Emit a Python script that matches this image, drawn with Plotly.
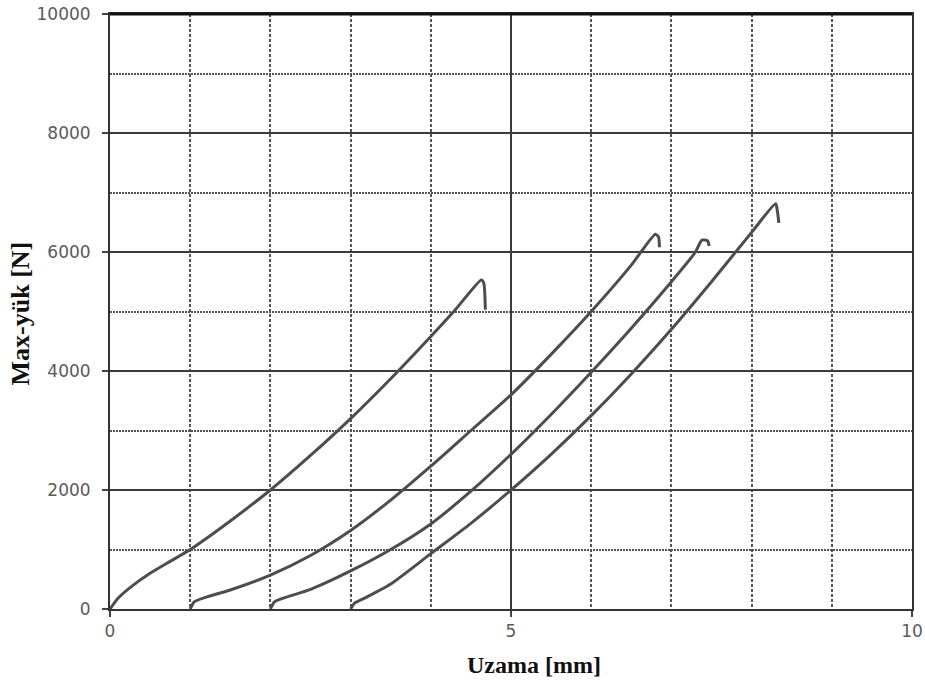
import plotly.graph_objects as go

# Load-elongation curves of four tensile specimens (elongation in mm, load in N)
elong_1 = [0.0, 0.1, 0.25, 0.5, 0.75, 1.0, 1.5, 2.0, 2.5, 3.0, 3.5, 4.0, 4.3, 4.63, 4.66, 4.68]
load_1 = [0, 180, 360, 600, 800, 1000, 1480, 2000, 2580, 3200, 3870, 4580, 5020, 5530, 5480, 5030]

elong_2 = [1.0, 1.05, 1.2, 1.5, 2.0, 2.5, 3.0, 3.5, 4.0, 4.5, 5.0, 5.5, 6.0, 6.5, 6.8, 6.84, 6.85]
load_2 = [0, 120, 200, 320, 570, 900, 1320, 1830, 2400, 3000, 3600, 4280, 5000, 5780, 6300, 6250, 6080]

elong_3 = [2.0, 2.05, 2.2, 2.5, 3.0, 3.5, 4.0, 4.5, 5.0, 5.5, 6.0, 6.5, 7.0, 7.3, 7.38, 7.45, 7.47]
load_3 = [0, 120, 200, 330, 640, 1000, 1430, 1980, 2600, 3270, 3980, 4720, 5500, 6000, 6200, 6190, 6100]

elong_4 = [3.0, 3.05, 3.2, 3.5, 4.0, 4.5, 5.0, 5.5, 6.0, 6.5, 7.0, 7.5, 8.0, 8.3, 8.32, 8.34]
load_4 = [0, 100, 200, 420, 930, 1440, 2000, 2600, 3250, 3950, 4700, 5500, 6330, 6810, 6700, 6490]

x_ticks = [0, 5, 10]
x_tick_text = ["0", "5", "10"]
y_ticks = [0, 2000, 4000, 6000, 8000, 10000]
y_tick_text = ["0", "2000", "4000", "6000", "8000", "10000"]

LINE = "#4d4d4d"

fig = go.Figure()
for xs, ys in [(elong_1, load_1), (elong_2, load_2), (elong_3, load_3), (elong_4, load_4)]:
    fig.add_trace(go.Scatter(x=xs, y=ys, mode="lines",
                             line=dict(color=LINE, width=3, shape="spline", smoothing=0.6),
                             showlegend=False, hoverinfo="skip"))

tick_font = dict(family="DejaVu Sans", size=17, color="#5a5a5a")

fig.update_xaxes(
    range=[0, 10], tickvals=x_ticks, ticktext=x_tick_text,
    ticks="outside", ticklen=6, tickwidth=2,
    tickcolor="#444444", tickfont=tick_font, automargin=False,
    showline=True, linecolor="#333333", linewidth=2, mirror=True,
    showgrid=True, gridcolor="#3c3c3c", gridwidth=2,
    minor=dict(dtick=1, showgrid=True, gridcolor="#555555", gridwidth=1.5,
               griddash="3px,2px", ticks=""),
    zeroline=False,
)
fig.update_yaxes(
    range=[0, 10000], tickvals=y_ticks, ticktext=y_tick_text,
    ticks="outside", ticklen=6, tickwidth=2, ticklabelstandoff=8,
    tickcolor="#444444", tickfont=tick_font, automargin=False,
    showline=True, linecolor="#333333", linewidth=2, mirror=True,
    showgrid=True, gridcolor="#3c3c3c", gridwidth=2,
    minor=dict(dtick=1000, showgrid=True, gridcolor="#555555", gridwidth=1.5,
               griddash="2px,1px", ticks=""),
    zeroline=False,
)

# heavy frame line along the top of the plot
fig.add_shape(type="line", xref="paper", yref="paper", x0=0, x1=1, y0=1, y1=1,
              line=dict(color="#111111", width=3))

title_font = dict(family="Liberation Serif", size=24, color="#111111")
fig.add_annotation(text="<b>Uzama [mm]</b>", xref="paper", yref="paper",
                   x=0.529, y=-0.094, showarrow=False, font=title_font,
                   xanchor="center", yanchor="middle")
fig.add_annotation(text="<b>Max-yük [N]</b>", xref="paper", yref="paper",
                   x=-0.112, y=0.497, showarrow=False, font=dict(title_font, size=26),
                   textangle=-90, xanchor="center", yanchor="middle")

fig.update_layout(
    width=925, height=688,
    margin=dict(l=110, r=13, t=14, b=79),
    paper_bgcolor="white", plot_bgcolor="white",
)

fig.write_html("out.html")
